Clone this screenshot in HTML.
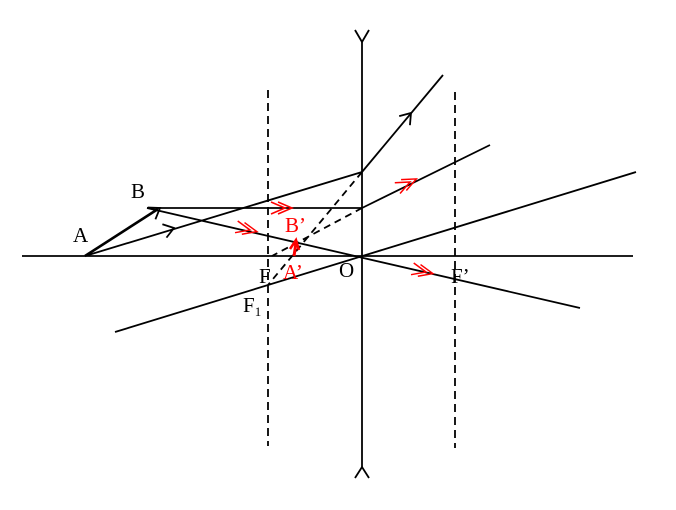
<!DOCTYPE html>
<html><head><style>body{margin:0;background:#fff}svg{display:block}text{font-family:"Liberation Serif",serif;font-size:21px}</style></head><body>
<svg width="676" height="510" viewBox="0 0 676 510" xmlns="http://www.w3.org/2000/svg">
<defs>
<g id="ah"><polyline points="-10,-7 0,0 -10,7" fill="none" stroke="#000" stroke-width="1.8"/></g>
<g id="rh"><polyline points="-14,-6 0,0 -14,6" fill="none" stroke="red" stroke-width="1.5"/><polyline points="-7,-6 7,0 -7,6" fill="none" stroke="red" stroke-width="1.5"/></g>
</defs>
<g stroke="#000" stroke-width="1.8" fill="none">
<line x1="22" y1="256" x2="633" y2="256"/>
<line x1="362" y1="42" x2="362" y2="467"/>
<polyline points="355,30 362,42 369,30"/>
<polyline points="355,478 362,467 369,478"/>
<line x1="268" y1="90" x2="268" y2="446" stroke-dasharray="8,5"/>
<line x1="455" y1="92" x2="455" y2="448" stroke-dasharray="8,5"/>
<line x1="147" y1="208" x2="362" y2="208"/>
<line x1="362" y1="208" x2="490" y2="145"/>
<line x1="85" y1="256" x2="362" y2="172"/>
<line x1="362" y1="172" x2="443" y2="75"/>
<line x1="147" y1="208" x2="580" y2="308"/>
<line x1="115" y1="332" x2="636" y2="172"/>
<line x1="362" y1="208" x2="272" y2="256" stroke-dasharray="7,5"/>
<line x1="362" y1="172" x2="268" y2="285" stroke-dasharray="7,5"/>
<line x1="85" y1="256" x2="158" y2="209" stroke-width="2.6"/>
</g>
<use href="#ah" transform="translate(160,208) rotate(-33)"/>
<use href="#ah" transform="translate(174,228) rotate(-17)"/>
<use href="#ah" transform="translate(411,113) rotate(-50)"/>
<use href="#rh" transform="translate(285,208)"/>
<use href="#rh" transform="translate(250,230) rotate(13)"/>
<use href="#rh" transform="translate(410,182) rotate(-26)"/>
<use href="#rh" transform="translate(426,272) rotate(13)"/>
<line x1="294" y1="256" x2="296" y2="243" stroke="red" stroke-width="3"/>
<polyline points="290,249 296,240 299,250" fill="none" stroke="red" stroke-width="2.5"/>
<text x="73" y="242">A</text>
<text x="131" y="198">B</text>
<text x="285" y="232" fill="red">B’</text>
<text x="283" y="279" fill="red">A’</text>
<text x="259" y="283">F</text>
<text x="243" y="312">F<tspan font-size="13" dy="4">1</tspan></text>
<text x="339" y="277">O</text>
<text x="451" y="283">F’</text>
</svg>
</body></html>
